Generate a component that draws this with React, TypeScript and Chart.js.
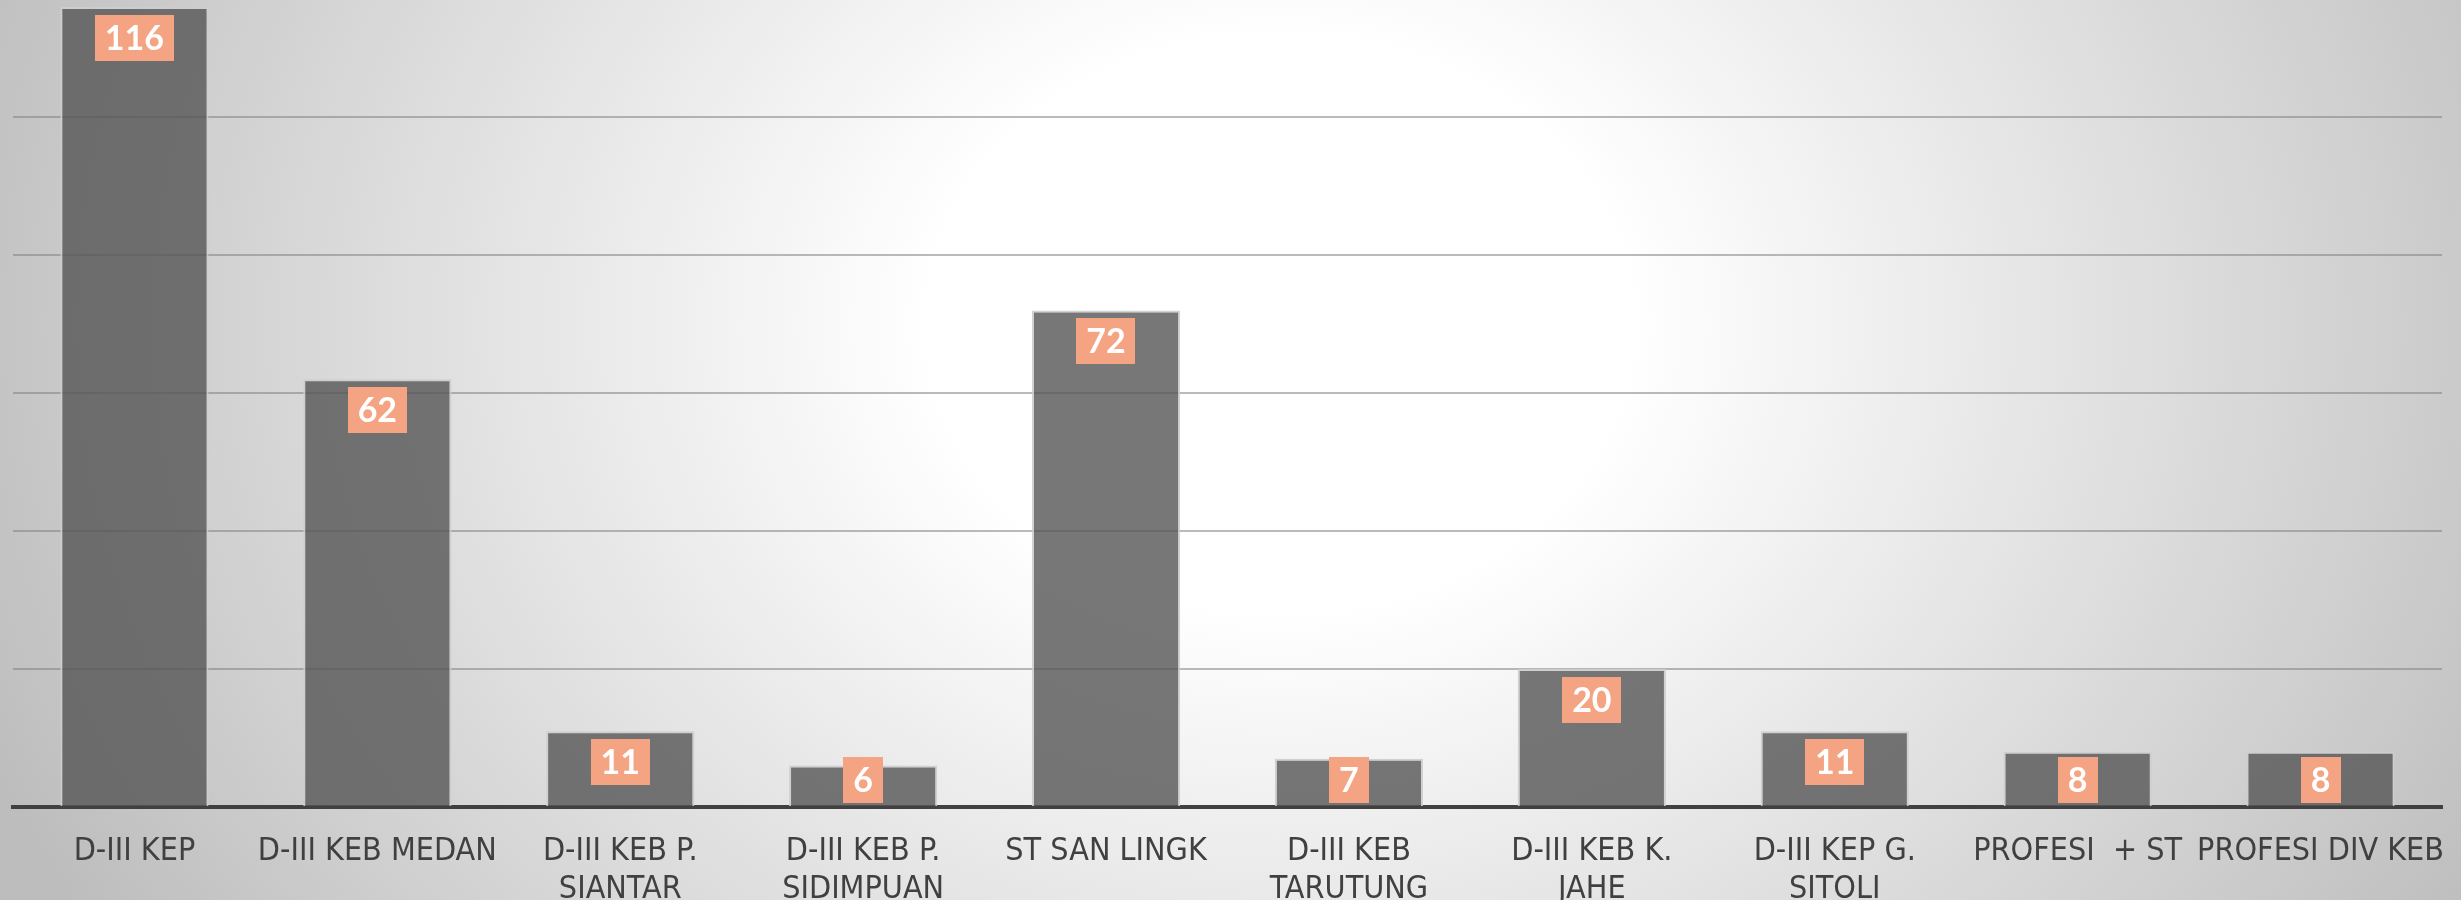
import React, { useEffect, useRef } from "react";
import { Chart, registerables } from "chart.js";

Chart.register(...registerables);

const categories: (string | string[])[] = [
  "D-III KEP",
  "D-III KEB MEDAN",
  ["D-III KEB P.", "SIANTAR"],
  ["D-III KEB P.", "SIDIMPUAN"],
  "ST SAN LINGK",
  ["D-III KEB", "TARUTUNG"],
  ["D-III KEB K.", "JAHE"],
  ["D-III KEP G.", "SITOLI"],
  "PROFESI  + ST",
  "PROFESI DIV KEB",
];

const values: number[] = [116, 62, 11, 6, 72, 7, 20, 11, 8, 8];

const yMin = 0;
const yMax = 117;
const yStep = 20;

const boxLabels = {
  id: "boxLabels",
  afterDatasetsDraw(chart: any) {
    const ctx = chart.ctx;
    const meta = chart.getDatasetMeta(0);
    const yZero = chart.scales.y.getPixelForValue(0);
    ctx.save();
    ctx.font = 'bold 34px Lato, "Liberation Sans", sans-serif';
    meta.data.forEach((bar: any, i: number) => {
      const txt = String(values[i]);
      const w = ctx.measureText(txt).width + 20;
      const h = 46;
      const top = Math.min(bar.y + 8, yZero - 4 - h);
      ctx.fillStyle = "#F4A383";
      ctx.fillRect(Math.round(bar.x - w / 2), Math.round(top), Math.round(w), h);
      ctx.fillStyle = "#ffffff";
      ctx.textAlign = "center";
      ctx.textBaseline = "middle";
      ctx.fillText(txt, bar.x, top + h / 2 + 1);
    });
    ctx.restore();
  },
};

export default function App() {
  const ref = useRef<HTMLCanvasElement | null>(null);

  useEffect(() => {
    document.body.style.margin = "0";
    document.body.style.overflow = "hidden";
    if (!ref.current) return;
    const chart = new Chart(ref.current, {
      type: "bar",
      data: {
        labels: categories,
        datasets: [
          {
            data: values,
            backgroundColor: "rgba(85,85,85,0.8)",
            borderColor: "rgba(205,205,205,0.9)",
            borderWidth: 2,
            categoryPercentage: 1,
            barPercentage: 0.61,
          },
        ],
      },
      options: {
        responsive: false,
        animation: false,
        layout: { padding: { left: 13, right: 19, top: 0, bottom: 0 } },
        plugins: {
          legend: { display: false },
          tooltip: { enabled: false },
        },
        scales: {
          x: {
            afterFit: (s: any) => {
              s.height = 93;
            },
            grid: { display: false, drawTicks: true, tickLength: 26 },
            border: { display: true, color: "#404040", width: 4 },
            ticks: {
              color: "#404040",
              padding: 0,
              maxRotation: 0,
              autoSkip: false,
              font: {
                family: '"DejaVu Sans Condensed", sans-serif',
                size: 32,
                lineHeight: "38px",
              },
            },
          },
          y: {
            min: yMin,
            max: yMax,
            ticks: { display: false, stepSize: yStep },
            border: { display: false },
            grid: {
              drawTicks: false,
              lineWidth: 2,
              color: (c: any) =>
                c.tick && c.tick.value % yStep === 0 ? "rgba(130,130,130,0.55)" : "rgba(0,0,0,0)",
            },
          },
        },
      },
      plugins: [boxLabels],
    });
    return () => chart.destroy();
  }, []);

  return (
    <div
      style={{
        width: 2461,
        height: 900,
        overflow: "hidden",
        background:
          "radial-gradient(ellipse 1400px 1150px at 52% 36%, #ffffff 25%, #bdbdbd 100%)",
      }}
    >
      <canvas ref={ref} width={2461} height={900} style={{ display: "block" }} />
    </div>
  );
}
